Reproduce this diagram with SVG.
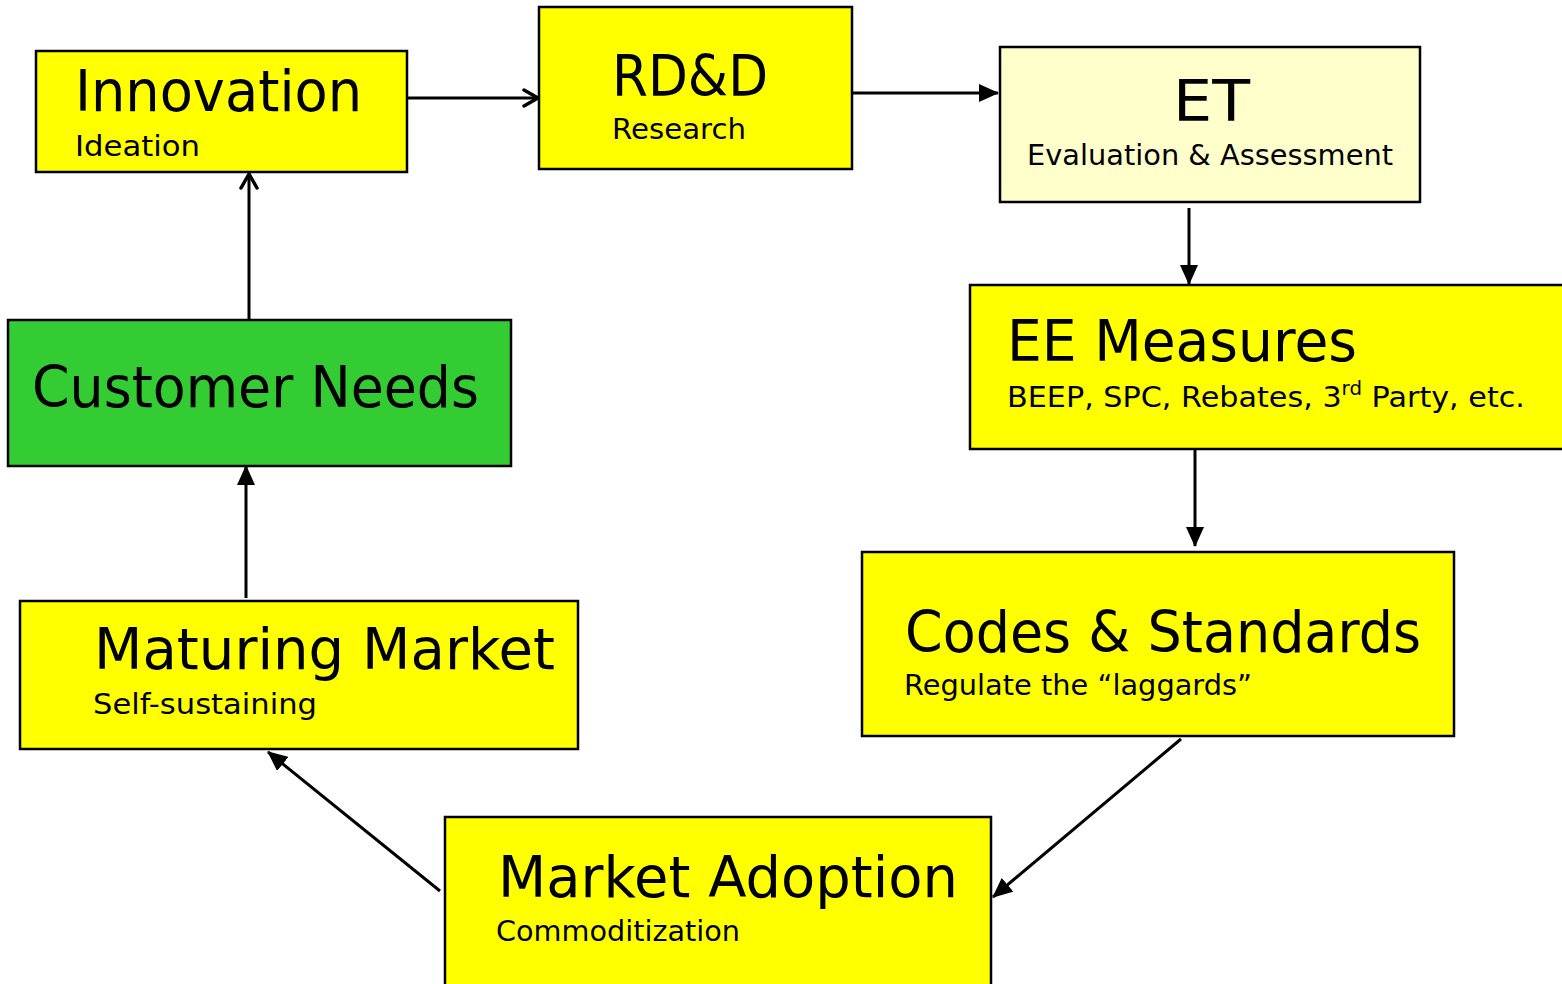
<svg xmlns="http://www.w3.org/2000/svg" width="1562" height="984" viewBox="0 0 1562 984">
<style>
.box{fill:#FFFF00;stroke:#000;stroke-width:2.5}
.t{font-family:"DejaVu Sans","Noto Sans",sans-serif;fill:#000}
.big{font-size:57px}
.sm{font-size:29px}
.c{stroke:#000;stroke-width:3;fill:none}
</style>
<defs>
<marker id="triL" viewBox="0 0 20 18" refX="19" refY="9" markerWidth="20" markerHeight="18" orient="auto" markerUnits="userSpaceOnUse">
<path d="M0,0 L20,9 L0,18 Z" fill="#000"/>
</marker>
<marker id="open" viewBox="0 0 20 20" refX="18" refY="10" markerWidth="20" markerHeight="20" orient="auto" markerUnits="userSpaceOnUse">
<path d="M4,2 L18,10 L4,18" fill="none" stroke="#000" stroke-width="3.5" stroke-linecap="round" stroke-linejoin="round"/>
</marker>
</defs>
<rect width="1562" height="984" fill="#fff"/>
<g id="connectors">
<line class="c" x1="408" y1="98" x2="538" y2="98" marker-end="url(#open)"/>
<line class="c" x1="853" y1="93" x2="998" y2="93" marker-end="url(#triL)"/>
<line class="c" x1="1189" y1="208" x2="1189" y2="284" marker-end="url(#triL)"/>
<line class="c" x1="1195" y1="449" x2="1195" y2="546" marker-end="url(#triL)"/>
<line class="c" x1="1181" y1="739" x2="993" y2="897" marker-end="url(#triL)"/>
<line class="c" x1="440" y1="891" x2="268" y2="752" marker-end="url(#triL)"/>
<line class="c" x1="246" y1="598" x2="246" y2="466" marker-end="url(#triL)"/>
<line class="c" x1="249" y1="320" x2="249" y2="174" marker-end="url(#open)"/>
</g>
<g id="innovation">
<rect class="box" x="36" y="51" width="371" height="121"/>
<text class="t big" x="75" y="111" textLength="287" lengthAdjust="spacingAndGlyphs">Innovation</text>
<text class="t sm" x="75" y="156" textLength="125" lengthAdjust="spacingAndGlyphs">Ideation</text>
</g>
<g id="rdd">
<rect class="box" x="539" y="7" width="313" height="162"/>
<text class="t big" x="612" y="96" textLength="156" lengthAdjust="spacingAndGlyphs">RD&amp;D</text>
<text class="t sm" x="612" y="139" textLength="134" lengthAdjust="spacingAndGlyphs">Research</text>
</g>
<g id="et">
<rect class="box" x="1000" y="47" width="420" height="155" style="fill:#FFFFCC"/>
<text class="t big" x="1173" y="121" textLength="77" lengthAdjust="spacingAndGlyphs">ET</text>
<text class="t sm" x="1027" y="165" textLength="366" lengthAdjust="spacingAndGlyphs">Evaluation &amp; Assessment</text>
</g>
<g id="ee-measures">
<rect class="box" x="970" y="285" width="594" height="164"/>
<text class="t big" x="1007" y="361" textLength="350" lengthAdjust="spacingAndGlyphs">EE Measures</text>
<text class="t sm" x="1007" y="407" textLength="518" lengthAdjust="spacingAndGlyphs">BEEP, SPC, Rebates, 3<tspan dy="-12" font-size="19">rd</tspan><tspan dy="12"> Party, etc.</tspan></text>
</g>
<g id="codes-standards">
<rect class="box" x="862" y="552" width="592" height="184"/>
<text class="t big" x="905" y="652" textLength="516" lengthAdjust="spacingAndGlyphs">Codes &amp; Standards</text>
<text class="t sm" x="904" y="695" textLength="348" lengthAdjust="spacingAndGlyphs">Regulate the “laggards”</text>
</g>
<g id="market-adoption">
<rect class="box" x="445" y="817" width="546" height="180"/>
<text class="t big" x="498" y="897" textLength="460" lengthAdjust="spacingAndGlyphs">Market Adoption</text>
<text class="t sm" x="496" y="941" textLength="244" lengthAdjust="spacingAndGlyphs">Commoditization</text>
</g>
<g id="maturing-market">
<rect class="box" x="20" y="601" width="558" height="148"/>
<text class="t big" x="94" y="669" textLength="461" lengthAdjust="spacingAndGlyphs">Maturing Market</text>
<text class="t sm" x="93" y="714" textLength="224" lengthAdjust="spacingAndGlyphs">Self-sustaining</text>
</g>
<g id="customer-needs">
<rect class="box" x="8" y="320" width="503" height="146" style="fill:#33CC33"/>
<text class="t big" x="32" y="407" textLength="447" lengthAdjust="spacingAndGlyphs">Customer Needs</text>
</g>
</svg>
